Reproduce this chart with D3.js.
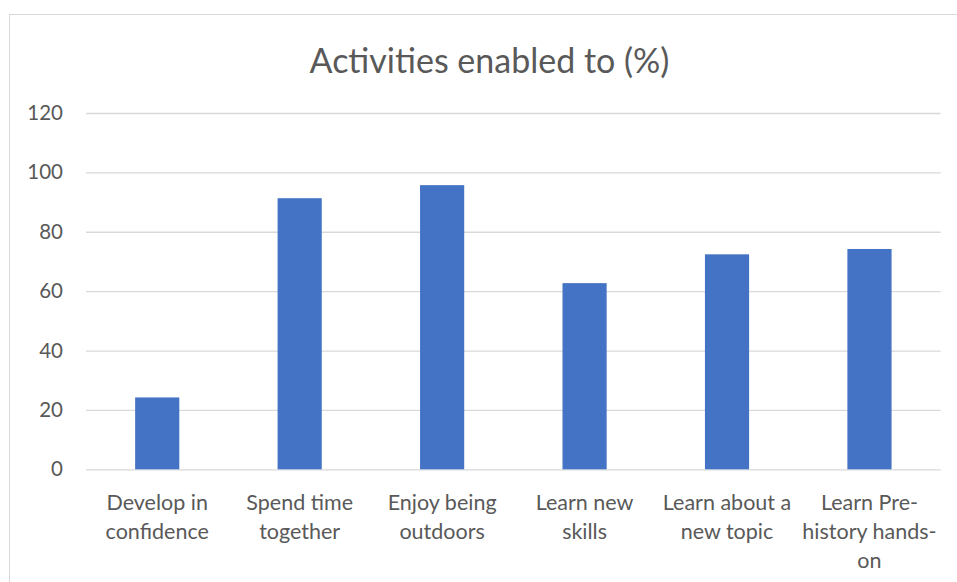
<!DOCTYPE html>
<html><head><meta charset="utf-8">
<script src="https://cdn.jsdelivr.net/npm/d3@7"></script>
<style>html,body{margin:0;padding:0;background:#fff;overflow:hidden}</style>
</head><body>
<svg id="c" width="957" height="582"></svg>
<script>
const title = "Activities enabled to (%)";
const categories = [
  ["Develop in", "confidence"],
  ["Spend time", "together"],
  ["Enjoy being", "outdoors"],
  ["Learn new", "skills"],
  ["Learn about a", "new topic"],
  ["Learn Pre-", "history hands-", "on"]
];
const values = [24.2, 91.3, 95.7, 62.7, 72.4, 74.2];
const yTicks = [0, 20, 40, 60, 80, 100, 120];

const svg = d3.select("#c");
const font = "Lato, 'Open Sans', sans-serif";
const txt = "#595959";
const m = {left: 86, right: 957 - 940.7, top: 113, bottom: 582 - 469.3};
const W = 957, H = 582;

// chart border
svg.append("rect").attr("x", 9.5).attr("y", 14.5).attr("width", 960).attr("height", 600)
  .attr("fill", "none").attr("stroke", "#d9d9d9").attr("stroke-width", 1);

const x = d3.scaleBand().domain(d3.range(categories.length)).range([m.left, W - m.right]).padding(0);
const y = d3.scaleLinear().domain([0, 120]).range([H - m.bottom, m.top]);

// gridlines
const yAxis = d3.axisLeft(y).tickValues(yTicks).tickSize(-(W - m.right - m.left)).tickPadding(23);
const gy = svg.append("g").attr("transform", `translate(${m.left},0)`).call(yAxis);
gy.select(".domain").remove();
gy.selectAll(".tick line").attr("stroke", "#d9d9d9").attr("stroke-width", 1.3);
gy.selectAll(".tick text").attr("fill", txt).style("font-family", font).style("font-size", "20.5px");

// bars
const bw = x.step() * 0.31;
svg.append("g").selectAll("rect").data(values).join("rect")
  .attr("x", (d, i) => x(i) + x.bandwidth() / 2 - bw / 2)
  .attr("width", bw)
  .attr("y", d => y(d))
  .attr("height", d => y(0) - y(d))
  .attr("fill", "#4472c4");

// category labels
const xl = svg.append("g");
categories.forEach((lines, i) => {
  const t = xl.append("text").attr("text-anchor", "middle")
    .attr("fill", txt).style("font-family", font).style("font-size", "21.5px");
  lines.forEach((ln, j) => {
    t.append("tspan").attr("x", x(i) + x.bandwidth() / 2).attr("y", 509.5 + j * 29.3).text(ln);
  });
});

// title
svg.append("text").attr("x", 489.5).attr("y", 73).attr("text-anchor", "middle")
  .attr("fill", txt).style("font-family", font).style("font-size", "34px").text(title);
</script>
</body></html>
